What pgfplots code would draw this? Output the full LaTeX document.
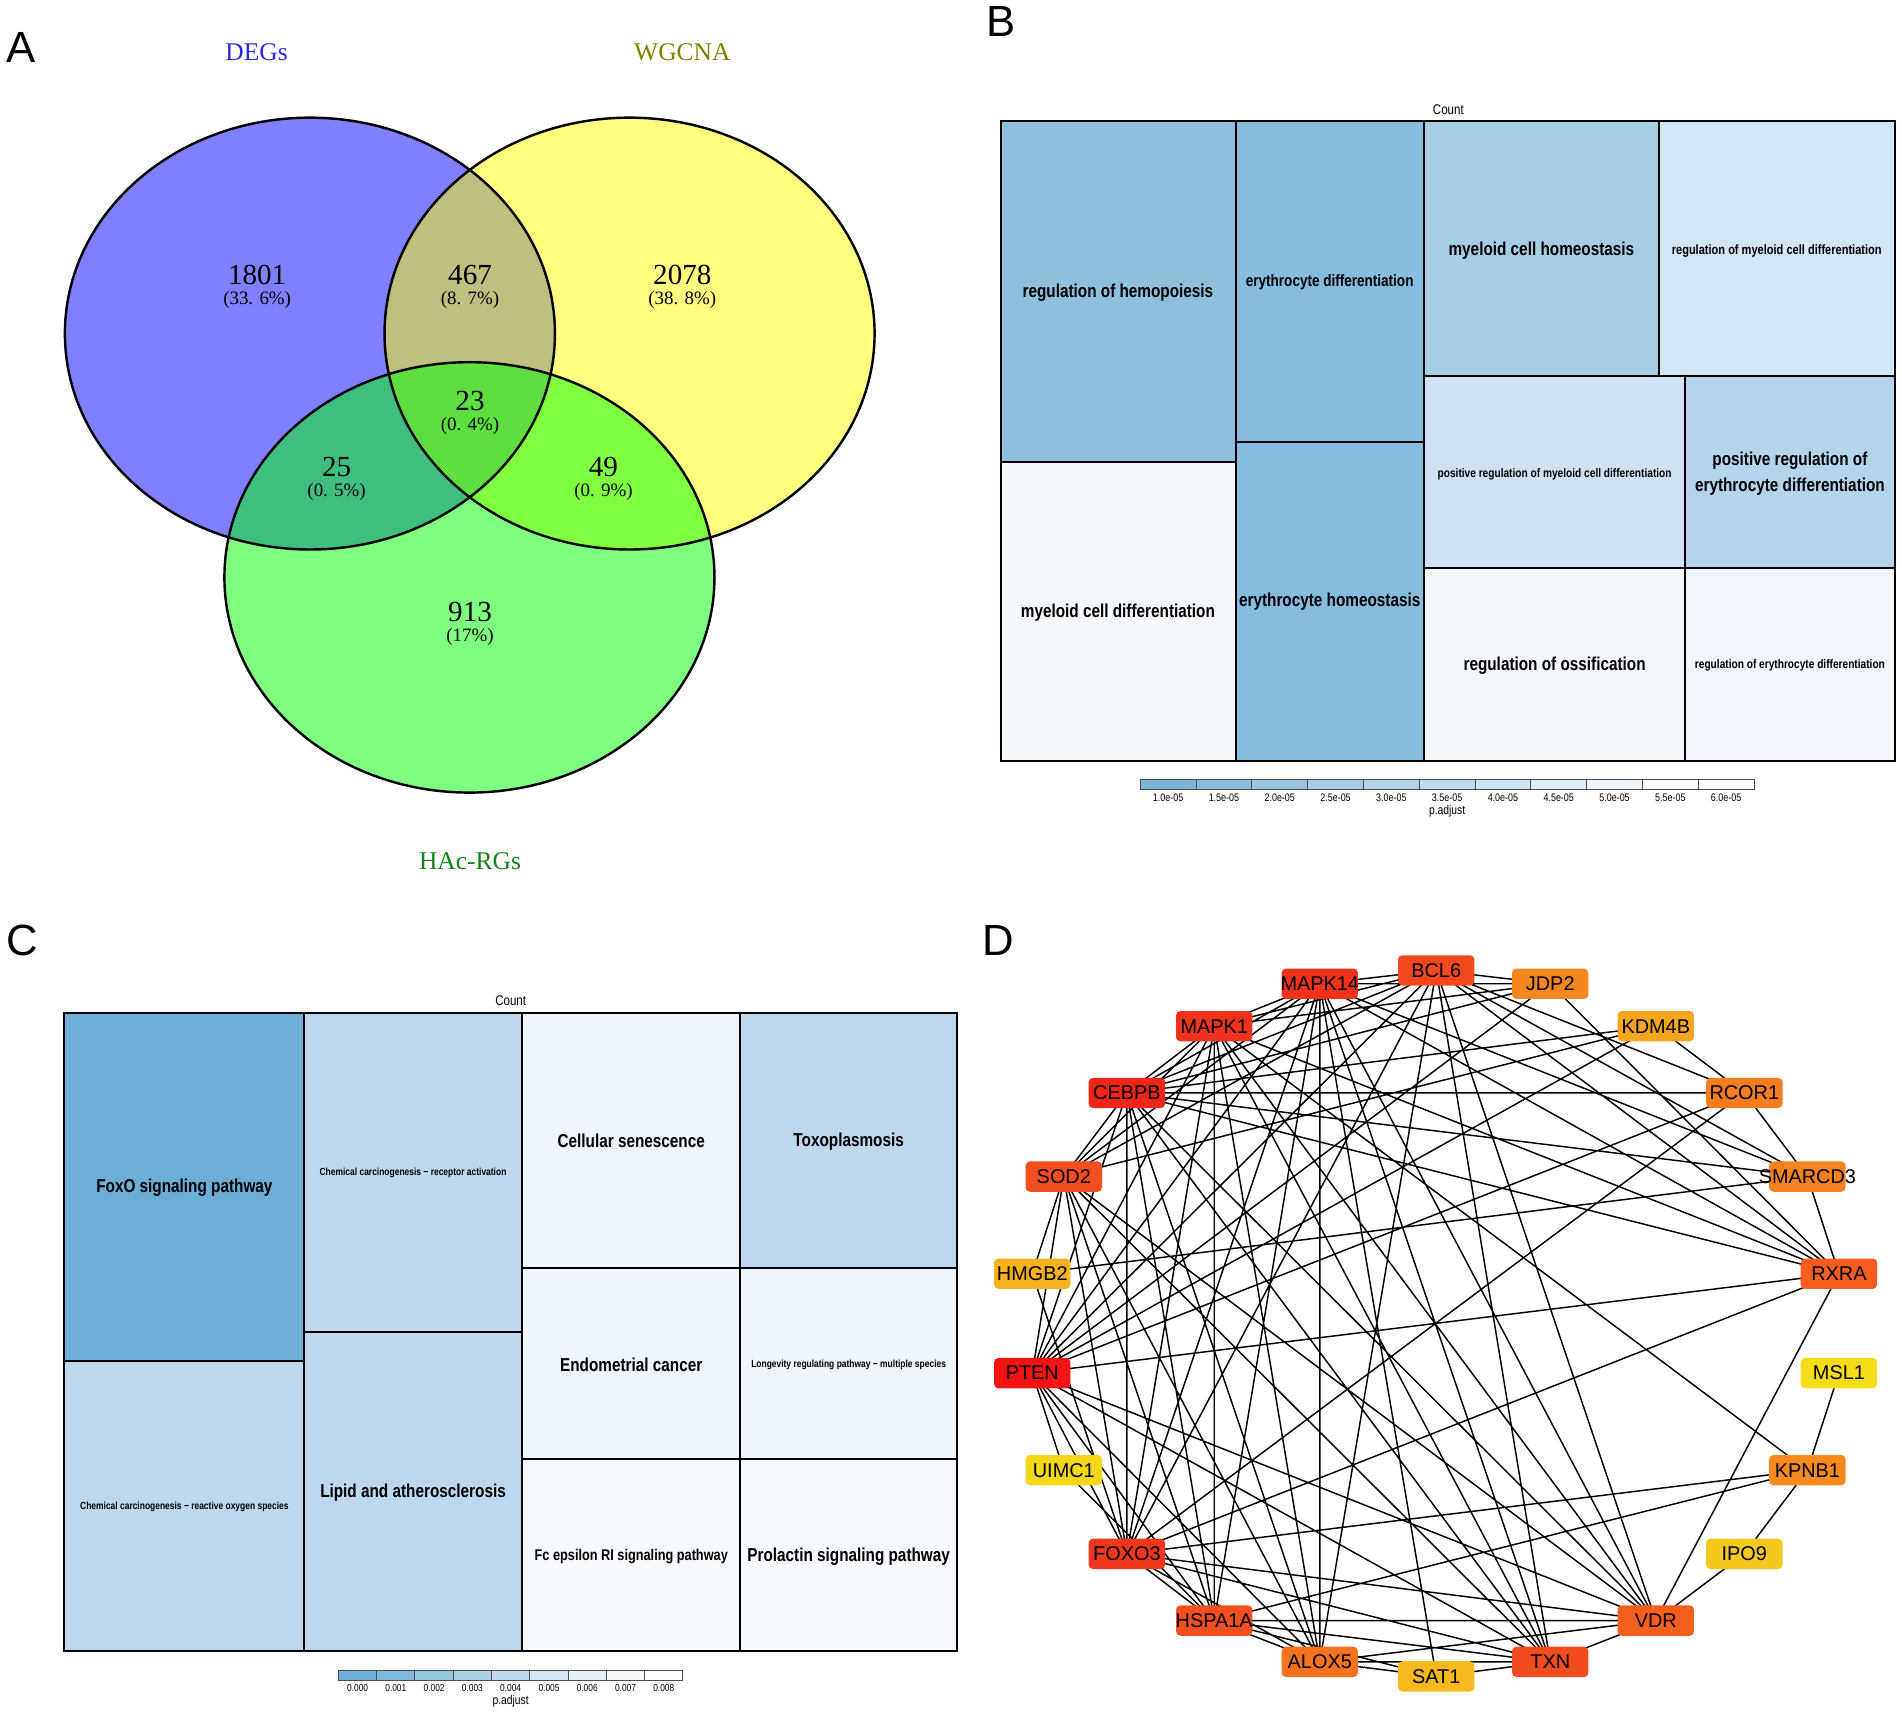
\documentclass[border=0pt]{standalone}
\usepackage{fontspec}
\setmainfont{Liberation Sans}
\newfontfamily\cond{Liberation Sans}[FakeStretch=0.82]
\newfontfamily\vennfont{Liberation Serif}
\usepackage{pgfplots}
\pgfplotsset{compat=1.18}

\definecolor{vblue}{RGB}{0,0,255}
\definecolor{vyel}{RGB}{255,255,0}
\definecolor{vgrn}{RGB}{0,255,0}
\definecolor{tDEG}{RGB}{40,40,235}
\definecolor{tWG}{RGB}{128,128,0}
\definecolor{tHA}{RGB}{20,130,20}
% treemap B
\definecolor{tb1}{RGB}{142,192,222}
\definecolor{tb2}{RGB}{134,188,221}
\definecolor{tb3}{RGB}{166,206,227}
\definecolor{tb4}{RGB}{211,228,242}
\definecolor{tb5}{RGB}{208,226,241}
\definecolor{tb6}{RGB}{245,249,253}
\definecolor{tb7}{RGB}{180,212,233}
\definecolor{tb8}{RGB}{243,247,252}
\definecolor{tb9}{RGB}{242,246,252}
\definecolor{cbB}{RGB}{125,182,218}
% treemap C
\definecolor{tc1}{RGB}{107,174,214}
\definecolor{tc2}{RGB}{189,215,236}
\definecolor{tc3}{RGB}{239,245,252}
\definecolor{tc4}{RGB}{247,250,254}
\definecolor{cbC}{RGB}{107,174,214}
% network nodes
\definecolor{nPTEN}{RGB}{245,20,20}
\definecolor{nCEBPB}{RGB}{238,38,25}
\definecolor{nMAPK1}{RGB}{238,50,28}
\definecolor{nMAPK14}{RGB}{238,50,28}
\definecolor{nFOXO3}{RGB}{238,55,28}
\definecolor{nBCL6}{RGB}{242,72,30}
\definecolor{nSOD2}{RGB}{242,78,30}
\definecolor{nHSPA1A}{RGB}{242,80,30}
\definecolor{nTXN}{RGB}{242,76,30}
\definecolor{nRXRA}{RGB}{245,92,30}
\definecolor{nVDR}{RGB}{245,95,30}
\definecolor{nALOX5}{RGB}{245,115,30}
\definecolor{nRCOR1}{RGB}{245,125,30}
\definecolor{nSMARCD3}{RGB}{245,130,30}
\definecolor{nJDP2}{RGB}{245,135,30}
\definecolor{nKPNB1}{RGB}{245,138,30}
\definecolor{nKDM4B}{RGB}{245,165,30}
\definecolor{nHMGB2}{RGB}{245,178,30}
\definecolor{nSAT1}{RGB}{245,185,30}
\definecolor{nIPO9}{RGB}{245,200,30}
\definecolor{nUIMC1}{RGB}{245,215,25}
\definecolor{nMSL1}{RGB}{245,220,25}

% node coordinates (picture units, y downward)
\newcommand\C[3]{\expandafter\def\csname c#1\endcsname{(#2,#3)}}
\C{BCL6}{1184}{800}
\C{MAPK14}{1088}{811}
\C{JDP2}{1278}{811}
\C{MAPK1}{1001}{846}
\C{KDM4B}{1365}{846}
\C{CEBPB}{929}{901}
\C{RCOR1}{1438}{901}
\C{SOD2}{877}{970}
\C{SMARCD3}{1490}{970}
\C{HMGB2}{851}{1050}
\C{RXRA}{1516}{1050}
\C{PTEN}{851}{1132}
\C{MSL1}{1516}{1132}
\C{UIMC1}{877}{1212}
\C{KPNB1}{1490}{1212}
\C{FOXO3}{929}{1281}
\C{IPO9}{1438}{1281}
\C{HSPA1A}{1001}{1336}
\C{VDR}{1365}{1336}
\C{ALOX5}{1088}{1370}
\C{TXN}{1278}{1370}
\C{SAT1}{1184}{1382}

\def\edgelist{}
\newcommand\E[2]{\xdef\edgelist{\edgelist\csname c#1\endcsname\space\csname c#2\endcsname\space(nan,nan)\space}}
% PTEN
\E{PTEN}{RXRA}\E{PTEN}{VDR}\E{PTEN}{TXN}\E{PTEN}{UIMC1}\E{PTEN}{FOXO3}
\E{PTEN}{HSPA1A}\E{PTEN}{ALOX5}\E{PTEN}{SOD2}\E{PTEN}{CEBPB}\E{PTEN}{MAPK1}
\E{PTEN}{MAPK14}\E{PTEN}{BCL6}\E{PTEN}{JDP2}\E{PTEN}{KDM4B}\E{PTEN}{RCOR1}
% CEBPB
\E{CEBPB}{RCOR1}\E{CEBPB}{SMARCD3}\E{CEBPB}{RXRA}\E{CEBPB}{KDM4B}\E{CEBPB}{FOXO3}
\E{CEBPB}{MAPK1}\E{CEBPB}{MAPK14}\E{CEBPB}{BCL6}\E{CEBPB}{JDP2}\E{CEBPB}{SOD2}
\E{CEBPB}{HSPA1A}\E{CEBPB}{ALOX5}\E{CEBPB}{TXN}\E{CEBPB}{VDR}
% MAPK1
\E{MAPK1}{HSPA1A}\E{MAPK1}{KPNB1}\E{MAPK1}{RXRA}\E{MAPK1}{MAPK14}\E{MAPK1}{BCL6}
\E{MAPK1}{JDP2}\E{MAPK1}{SOD2}\E{MAPK1}{FOXO3}\E{MAPK1}{ALOX5}\E{MAPK1}{TXN}\E{MAPK1}{VDR}
% MAPK14
\E{MAPK14}{ALOX5}\E{MAPK14}{SMARCD3}\E{MAPK14}{RXRA}\E{MAPK14}{BCL6}\E{MAPK14}{JDP2}
\E{MAPK14}{SOD2}\E{MAPK14}{FOXO3}\E{MAPK14}{HSPA1A}\E{MAPK14}{TXN}\E{MAPK14}{VDR}\E{MAPK14}{SAT1}
% BCL6
\E{BCL6}{JDP2}\E{BCL6}{RCOR1}\E{BCL6}{SMARCD3}\E{BCL6}{RXRA}\E{BCL6}{SOD2}
\E{BCL6}{FOXO3}\E{BCL6}{TXN}\E{BCL6}{VDR}\E{BCL6}{ALOX5}
% others
\E{JDP2}{RXRA}
\E{SOD2}{KDM4B}\E{SOD2}{HMGB2}\E{SOD2}{TXN}\E{SOD2}{VDR}\E{SOD2}{HSPA1A}\E{SOD2}{ALOX5}\E{SOD2}{FOXO3}
\E{FOXO3}{RCOR1}\E{FOXO3}{KPNB1}\E{FOXO3}{RXRA}\E{FOXO3}{HMGB2}\E{FOXO3}{HSPA1A}
\E{FOXO3}{TXN}\E{FOXO3}{VDR}\E{FOXO3}{ALOX5}
\E{HSPA1A}{KPNB1}\E{HSPA1A}{ALOX5}\E{HSPA1A}{TXN}\E{HSPA1A}{SAT1}\E{HSPA1A}{VDR}\E{HSPA1A}{UIMC1}
\E{TXN}{VDR}\E{TXN}{SAT1}\E{TXN}{ALOX5}
\E{VDR}{RXRA}\E{VDR}{IPO9}\E{VDR}{ALOX5}
\E{ALOX5}{SAT1}
\E{KPNB1}{MSL1}\E{KPNB1}{IPO9}
\E{KDM4B}{RCOR1}\E{HMGB2}{SMARCD3}\E{RCOR1}{SMARCD3}\E{SMARCD3}{RXRA}

\newcommand\N[1]{\edef\tmp{\noexpand\addplot[draw=none,mark=none] coordinates {\csname c#1\endcsname} node[nbox,fill=n#1,label={[nlab]center:#1}]{};}\tmp}
\newcommand\R[6][draw=black,line width=0.8pt]{\addplot[#1,fill=#6,mark=none] coordinates {(#2,#3) (#4,#3) (#4,#5) (#2,#5)} -- cycle;}

\tikzset{
  nbox/.style={rectangle,rounded corners=1.8pt,minimum width=31.5pt,minimum height=12.5pt,inner sep=0pt,draw=none},
  nlab/.style={font=\fontsize{8.2}{9}\selectfont,text=black,inner sep=0pt},
  tmL/.style={font=\cond\bfseries\fontsize{7.7}{10.5}\selectfont,align=center,inner sep=0pt},
  tmM/.style={font=\cond\bfseries\fontsize{6.8}{8}\selectfont,inner sep=0pt},
  tmF/.style={font=\cond\bfseries\fontsize{6.4}{8}\selectfont,inner sep=0pt},
  tmS/.style={font=\cond\bfseries\fontsize{5.55}{7}\selectfont,inner sep=0pt},
  tmT/.style={font=\cond\bfseries\fontsize{5.1}{6}\selectfont,inner sep=0pt},
  tmC/.style={font=\cond\bfseries\fontsize{4.25}{5}\selectfont,inner sep=0pt},
  cbl/.style={font=\cond\fontsize{4.5}{5}\selectfont,inner sep=0pt},
  cbc/.style={font=\cond\fontsize{4.2}{5}\selectfont,inner sep=0pt},
  pad/.style={font=\cond\fontsize{5.2}{6}\selectfont,inner sep=0pt},
  cnt/.style={font=\cond\fontsize{5.8}{6}\selectfont,inner sep=0pt},
  plet/.style={font=\fontsize{18}{20}\selectfont,inner sep=0pt},
  vnum/.style={font=\vennfont\fontsize{12}{13}\selectfont,inner sep=0pt},
  vpct/.style={font=\vennfont\fontsize{7.8}{9}\selectfont,inner sep=0pt},
  vtit/.style={font=\vennfont\fontsize{10.5}{12}\selectfont,inner sep=0pt},
}

\begin{document}
\begin{tikzpicture}
\begin{axis}[
  width=784pt, height=706pt, scale only axis,
  xmin=0, xmax=1568, ymin=0, ymax=1412, y dir=reverse,
  hide axis, clip=false]

% ---------------- Panel A: Venn ----------------
\fill[vblue, fill opacity=0.5] (axis cs:255.5,275) ellipse [x radius=101pt, y radius=89pt];
\fill[vyel, fill opacity=0.5] (axis cs:519,275) ellipse [x radius=101pt, y radius=89pt];
\fill[vgrn, fill opacity=0.5] (axis cs:387,476) ellipse [x radius=101pt, y radius=88.7pt];
\draw[black, line width=1pt] (axis cs:255.5,275) ellipse [x radius=101pt, y radius=89pt];
\draw[black, line width=1pt] (axis cs:519,275) ellipse [x radius=101pt, y radius=89pt];
\draw[black, line width=1pt] (axis cs:387,476) ellipse [x radius=101pt, y radius=88.7pt];

\node[plet] at (axis cs:17.5,39) {A};
\node[vtit, text=tDEG] at (axis cs:211.5,43) {DEGs};
\node[vtit, text=tWG] at (axis cs:562.5,43) {WGCNA};
\node[vtit, text=tHA] at (axis cs:387.5,710) {HAc-RGs};

\node[vnum] at (axis cs:212,226.5) {1801};
\node[vpct] at (axis cs:212,247) {(33. 6\%)};
\node[vnum] at (axis cs:387.5,226.5) {467};
\node[vpct] at (axis cs:387.5,247) {(8. 7\%)};
\node[vnum] at (axis cs:562.5,226.5) {2078};
\node[vpct] at (axis cs:562.5,247) {(38. 8\%)};
\node[vnum] at (axis cs:387.5,330.5) {23};
\node[vpct] at (axis cs:387.5,351) {(0. 4\%)};
\node[vnum] at (axis cs:277.5,385) {25};
\node[vpct] at (axis cs:277.5,405.5) {(0. 5\%)};
\node[vnum] at (axis cs:497.5,385) {49};
\node[vpct] at (axis cs:497.5,405.5) {(0. 9\%)};
\node[vnum] at (axis cs:387.5,504.5) {913};
\node[vpct] at (axis cs:387.5,525) {(17\%)};

% ---------------- Panel B: GO treemap ----------------
\node[plet] at (axis cs:825,18) {B};
\node[cnt] at (axis cs:1194,90) {Count};
\R{825}{100}{1019}{381}{tb1}
\R{825}{381}{1019}{627}{tb6}
\R{1019}{100}{1174}{364}{tb2}
\R{1019}{364}{1174}{627}{tb2}
\R{1174}{100}{1368}{310}{tb3}
\R{1368}{100}{1562}{310}{tb4}
\R{1174}{310}{1389}{468}{tb5}
\R{1389}{310}{1562}{468}{tb7}
\R{1174}{468}{1389}{627}{tb8}
\R{1389}{468}{1562}{627}{tb9}
\node[tmL] at (axis cs:921.6,241.7) {regulation of hemopoiesis};
\node[tmM] at (axis cs:1096.2,232.8) {erythrocyte differentiation};
\node[tmL] at (axis cs:1270.7,206.6) {myeloid cell homeostasis};
\node[tmS] at (axis cs:1464.7,206.6) {regulation of myeloid cell differentiation};
\node[tmL] at (axis cs:921.6,504.8) {myeloid cell differentiation};
\node[tmL] at (axis cs:1096.2,495.9) {erythrocyte homeostasis};
\node[tmT] at (axis cs:1281.6,391) {positive regulation of myeloid cell differentiation};
\node[tmL] at (axis cs:1475.6,390.6) {positive regulation of\\erythrocyte differentiation};
\node[tmL] at (axis cs:1281.6,548.9) {regulation of ossification};
\node[tmT] at (axis cs:1475.6,548.9) {regulation of erythrocyte differentiation};

% colorbar B
\R[draw=black!70,line width=0.4pt]{940}{643}{986}{651}{cbB!100}
\R[draw=black!70,line width=0.4pt]{986}{643}{1032}{651}{cbB!90}
\R[draw=black!70,line width=0.4pt]{1032}{643}{1078}{651}{cbB!80}
\R[draw=black!70,line width=0.4pt]{1078}{643}{1124}{651}{cbB!70}
\R[draw=black!70,line width=0.4pt]{1124}{643}{1170}{651}{cbB!60}
\R[draw=black!70,line width=0.4pt]{1170}{643}{1216}{651}{cbB!50}
\R[draw=black!70,line width=0.4pt]{1216}{643}{1262}{651}{cbB!38}
\R[draw=black!70,line width=0.4pt]{1262}{643}{1308}{651}{cbB!26}
\R[draw=black!70,line width=0.4pt]{1308}{643}{1354}{651}{cbB!15}
\R[draw=black!70,line width=0.4pt]{1354}{643}{1400}{651}{cbB!6}
\R[draw=black!70,line width=0.4pt]{1400}{643}{1446}{651}{white}
\node[cbl] at (axis cs:963,657.5) {1.0e-05};
\node[cbl] at (axis cs:1009,657.5) {1.5e-05};
\node[cbl] at (axis cs:1055,657.5) {2.0e-05};
\node[cbl] at (axis cs:1101,657.5) {2.5e-05};
\node[cbl] at (axis cs:1147,657.5) {3.0e-05};
\node[cbl] at (axis cs:1193,657.5) {3.5e-05};
\node[cbl] at (axis cs:1239,657.5) {4.0e-05};
\node[cbl] at (axis cs:1285,657.5) {4.5e-05};
\node[cbl] at (axis cs:1331,657.5) {5.0e-05};
\node[cbl] at (axis cs:1377,657.5) {5.5e-05};
\node[cbl] at (axis cs:1423,657.5) {6.0e-05};
\node[pad] at (axis cs:1193,669) {p.adjust};

% ---------------- Panel C: KEGG treemap ----------------
\node[plet] at (axis cs:18,775) {C};
\node[cnt] at (axis cs:421,825) {Count};
\R{53}{835}{251}{1122}{tc1}
\R{53}{1122}{251}{1361}{tc2}
\R{251}{835}{430}{1098}{tc2}
\R{251}{1098}{430}{1361}{tc2}
\R{430}{835}{610}{1045}{tc3}
\R{610}{835}{789}{1045}{tc2}
\R{430}{1045}{610}{1203}{tc3}
\R{610}{1045}{789}{1203}{tc3}
\R{430}{1203}{610}{1361}{tc4}
\R{610}{1203}{789}{1361}{tc4}
\node[tmL] at (axis cs:152,979.4) {FoxO signaling pathway};
\node[tmC] at (axis cs:340.5,966.9) {Chemical carcinogenesis − receptor activation};
\node[tmC] at (axis cs:152,1242.5) {Chemical carcinogenesis − reactive oxygen species};
\node[tmL] at (axis cs:340.5,1230.7) {Lipid and atherosclerosis};
\node[tmL] at (axis cs:520.4,940.8) {Cellular senescence};
\node[tmL] at (axis cs:699.6,940.8) {Toxoplasmosis};
\node[tmL] at (axis cs:520.4,1125.1) {Endometrial cancer};
\node[tmC] at (axis cs:699.6,1125.1) {Longevity regulating pathway − multiple species};
\node[tmF] at (axis cs:520.4,1283.4) {Fc epsilon RI signaling pathway};
\node[tmL] at (axis cs:699.6,1283.4) {Prolactin signaling pathway};

% colorbar C
\R[draw=black!70,line width=0.4pt]{279}{1377}{310.6}{1385}{cbC!100}
\R[draw=black!70,line width=0.4pt]{310.6}{1377}{342.1}{1385}{cbC!86}
\R[draw=black!70,line width=0.4pt]{342.1}{1377}{373.7}{1385}{cbC!72}
\R[draw=black!70,line width=0.4pt]{373.7}{1377}{405.2}{1385}{cbC!58}
\R[draw=black!70,line width=0.4pt]{405.2}{1377}{436.8}{1385}{cbC!44}
\R[draw=black!70,line width=0.4pt]{436.8}{1377}{468.3}{1385}{cbC!30}
\R[draw=black!70,line width=0.4pt]{468.3}{1377}{499.9}{1385}{cbC!18}
\R[draw=black!70,line width=0.4pt]{499.9}{1377}{531.4}{1385}{cbC!8}
\R[draw=black!70,line width=0.4pt]{531.4}{1377}{563}{1385}{white}
\node[cbc] at (axis cs:294.8,1391.5) {0.000};
\node[cbc] at (axis cs:326.3,1391.5) {0.001};
\node[cbc] at (axis cs:357.9,1391.5) {0.002};
\node[cbc] at (axis cs:389.4,1391.5) {0.003};
\node[cbc] at (axis cs:421,1391.5) {0.004};
\node[cbc] at (axis cs:452.6,1391.5) {0.005};
\node[cbc] at (axis cs:484.1,1391.5) {0.006};
\node[cbc] at (axis cs:515.7,1391.5) {0.007};
\node[cbc] at (axis cs:547.2,1391.5) {0.008};
\node[pad] at (axis cs:421,1402.5) {p.adjust};

% ---------------- Panel D: PPI network ----------------
\node[plet] at (axis cs:823,775) {D};
\edef\tmp{\noexpand\addplot[black,line width=0.6pt,mark=none,unbounded coords=jump] coordinates {\edgelist};}\tmp
\N{BCL6}\N{MAPK14}\N{JDP2}\N{MAPK1}\N{KDM4B}\N{CEBPB}\N{RCOR1}\N{SOD2}
\N{SMARCD3}\N{HMGB2}\N{RXRA}\N{PTEN}\N{MSL1}\N{UIMC1}\N{KPNB1}\N{FOXO3}
\N{IPO9}\N{HSPA1A}\N{VDR}\N{ALOX5}\N{TXN}\N{SAT1}

\end{axis}
\pgfresetboundingbox
\path (current axis.south west) rectangle (current axis.north east);
\end{tikzpicture}
\end{document}
